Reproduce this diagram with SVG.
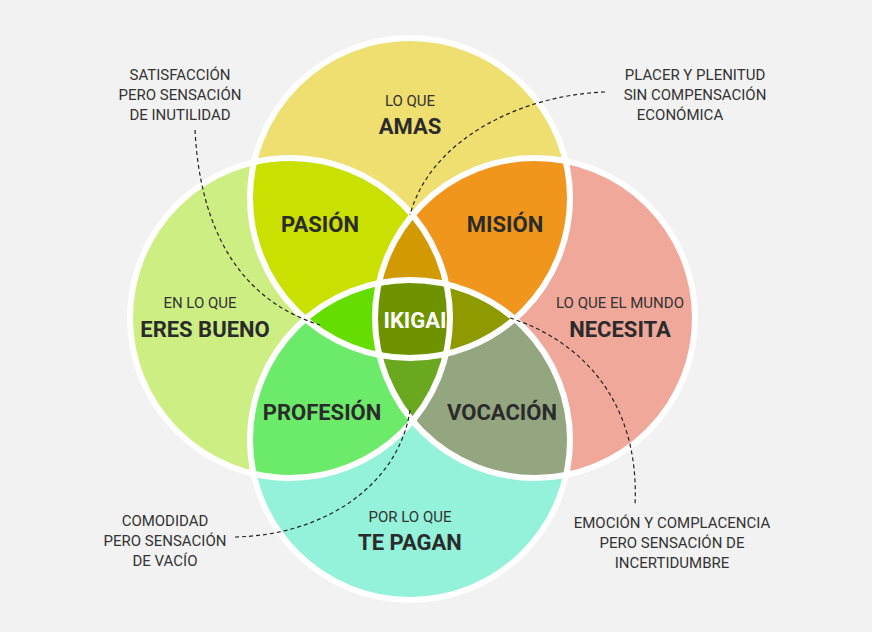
<svg xmlns="http://www.w3.org/2000/svg" width="872" height="632" viewBox="0 0 872 632">
<style>
.s{font-family:"Roboto","Liberation Sans",sans-serif;font-size:15px;fill:#333;text-anchor:middle}
.b{font-family:"Roboto","Liberation Sans",sans-serif;font-size:22px;font-weight:bold;fill:#2b2b2b;text-anchor:middle}
.d{fill:none;stroke:#222;stroke-width:1.2;stroke-dasharray:4 3}
.w{fill:none;stroke:#fff;stroke-width:6}
</style>
<defs>
<clipPath id="cT"><circle cx="410" cy="198" r="160"/></clipPath>
<clipPath id="cL"><circle cx="290" cy="318" r="160"/></clipPath>
<clipPath id="cR"><circle cx="535" cy="318" r="160"/></clipPath>
<clipPath id="cB"><circle cx="410" cy="440" r="160"/></clipPath>
</defs>
<rect width="872" height="632" fill="#f2f2f2"/>
<g id="circles">
<circle cx="410" cy="198" r="160" fill="#efde70"/>
<circle cx="290" cy="318" r="160" fill="#cdee83"/>
<circle cx="535" cy="318" r="160" fill="#f0a89a"/>
<circle cx="410" cy="440" r="160" fill="#93f2d9"/>
<g clip-path="url(#cT)"><circle cx="290" cy="318" r="160" fill="#c9e000"/><circle cx="535" cy="318" r="160" fill="#f0961c"/></g>
<g clip-path="url(#cB)"><circle cx="290" cy="318" r="160" fill="#6ceb6a"/><circle cx="535" cy="318" r="160" fill="#94a67f"/></g>
<g clip-path="url(#cT)"><g clip-path="url(#cL)"><circle cx="535" cy="318" r="160" fill="#d29a00"/><circle cx="410" cy="440" r="160" fill="#66dd00"/></g></g>
<g clip-path="url(#cT)"><g clip-path="url(#cR)"><circle cx="410" cy="440" r="160" fill="#8e9a00"/></g></g>
<g clip-path="url(#cB)"><g clip-path="url(#cL)"><circle cx="535" cy="318" r="160" fill="#6aa820"/></g></g>
<g clip-path="url(#cT)"><g clip-path="url(#cL)"><g clip-path="url(#cR)"><circle cx="410" cy="440" r="160" fill="#6f9300"/></g></g></g>
<circle class="w" cx="410" cy="198" r="160"/>
<circle class="w" cx="290" cy="318" r="160"/>
<circle class="w" cx="535" cy="318" r="160"/>
<circle class="w" cx="410" cy="440" r="160"/>
</g>
<g id="connectors">
<path class="d" d="M195 130 C200 230 240 300 320 325"/>
<path class="d" d="M605 92 C520 95 430 140 410 215"/>
<path class="d" d="M510 318 C580 340 640 400 635 505"/>
<path class="d" d="M235 537 C330 535 400 480 410 410"/>
</g>
<g id="labels">
<text class="s" x="180" y="80">SATISFACCIÓN</text>
<text class="s" x="180" y="100">PERO SENSACIÓN</text>
<text class="s" x="180" y="120">DE INUTILIDAD</text>
<text class="s" x="695" y="80">PLACER Y PLENITUD</text>
<text class="s" x="695" y="100">SIN COMPENSACIÓN</text>
<text class="s" x="680" y="120">ECONÓMICA</text>
<text class="s" x="410" y="106">LO QUE</text>
<text class="b" x="410" y="134">AMAS</text>
<text class="b" x="320" y="232">PASIÓN</text>
<text class="b" x="505" y="232">MISIÓN</text>
<text class="s" x="200" y="308">EN LO QUE</text>
<text class="b" x="205" y="337">ERES BUENO</text>
<text class="b" x="415" y="328" style="fill:#fff">IKIGAI</text>
<text class="s" x="620" y="308">LO QUE EL MUNDO</text>
<text class="b" x="620" y="337">NECESITA</text>
<text class="b" x="322" y="420">PROFESIÓN</text>
<text class="b" x="502" y="420">VOCACIÓN</text>
<text class="s" x="410" y="522">POR LO QUE</text>
<text class="b" x="410" y="550">TE PAGAN</text>
<text class="s" x="165" y="526">COMODIDAD</text>
<text class="s" x="165" y="546">PERO SENSACIÓN</text>
<text class="s" x="165" y="566">DE VACÍO</text>
<text class="s" x="672" y="528">EMOCIÓN Y COMPLACENCIA</text>
<text class="s" x="672" y="548">PERO SENSACIÓN DE</text>
<text class="s" x="672" y="568">INCERTIDUMBRE</text>
</g>
</svg>
